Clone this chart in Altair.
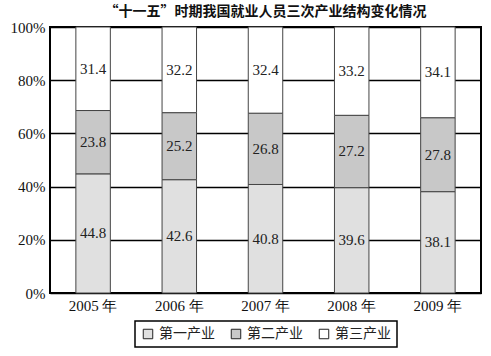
import altair as alt
import pandas as pd

years = ["2005 年", "2006 年", "2007 年", "2008 年", "2009 年"]
industries = ["第一产业", "第二产业", "第三产业"]
primary = [44.8, 42.6, 40.8, 39.6, 38.1]
secondary = [23.8, 25.2, 26.8, 27.2, 27.8]
tertiary = [31.4, 32.2, 32.4, 33.2, 34.1]
colors = ["#e0e0e0", "#c8c8c8", "#ffffff"]

rows = []
for i, y in enumerate(years):
    vals = [primary[i], secondary[i], tertiary[i]]
    cum = 0.0
    for k, (ind, v) in enumerate(zip(industries, vals)):
        rows.append({"year": y, "industry": ind, "value": v / 100.0,
                     "label": f"{v:.1f}", "order": k,
                     "y0": cum / 100.0, "y1": (cum + v) / 100.0,
                     "mid": (cum + v / 2) / 100.0})
        cum += v
df = pd.DataFrame(rows)

serif = "Times New Roman, Times, serif"

xenc = alt.X("year:N", sort=years, title=None,
             scale=alt.Scale(paddingInner=0.6, paddingOuter=0.3),
             axis=alt.Axis(labelAngle=0, labelFont=serif, labelFontSize=15,
                           labelColor="#111", ticks=False, domain=False,
                           labelPadding=5, grid=False))

bars = alt.Chart(df).mark_bar(stroke="#444", strokeWidth=1).encode(
    x=xenc,
    y=alt.Y("y0:Q", title=None,
            scale=alt.Scale(domain=[0, 1]),
            axis=alt.Axis(values=[0, 0.2, 0.4, 0.6, 0.8, 1.0], format=".0%",
                          labelFont=serif, labelFontSize=15, labelColor="#111",
                          ticks=False, domain=False, labelPadding=5,
                          grid=True, gridColor="#000", gridWidth=1.5,
                          gridOpacity=1)),
    y2="y1:Q",
    fill=alt.Fill("industry:N", sort=industries,
                  scale=alt.Scale(domain=industries, range=colors),
                  legend=alt.Legend(title=None, orient="none", direction="horizontal",
                                    legendX=85, legendY=294,
                                    symbolType="square", symbolSize=90,
                                    symbolStrokeColor="#222", symbolStrokeWidth=1,
                                    labelFont="Noto Sans CJK SC", labelFontSize=14,
                                    labelColor="#222", columnPadding=14,
                                    strokeColor="#000", padding=6,
                                    symbolOffset=0)),
)

labels = alt.Chart(df).mark_text(font=serif, fontSize=15, color="#222").encode(
    x=alt.X("year:N", sort=years),
    y=alt.Y("mid:Q"),
    text="label:N",
)

chart = (bars + labels).properties(
    width=431, height=266,
    autosize=alt.AutoSizeParams(type="none"),
    padding={"left": 50, "top": 27, "right": 10, "bottom": 63},
    title=alt.TitleParams("“十一五”时期我国就业人员三次产业结构变化情况",
                          font="Noto Sans CJK SC", fontSize=14, fontWeight="bold",
                          color="#111", anchor="middle", offset=1),
).configure_view(stroke="#000", strokeWidth=2).configure_legend(strokeWidth=1.5)

chart.save("out.html", embed_options={"renderer": "svg", "actions": False})
